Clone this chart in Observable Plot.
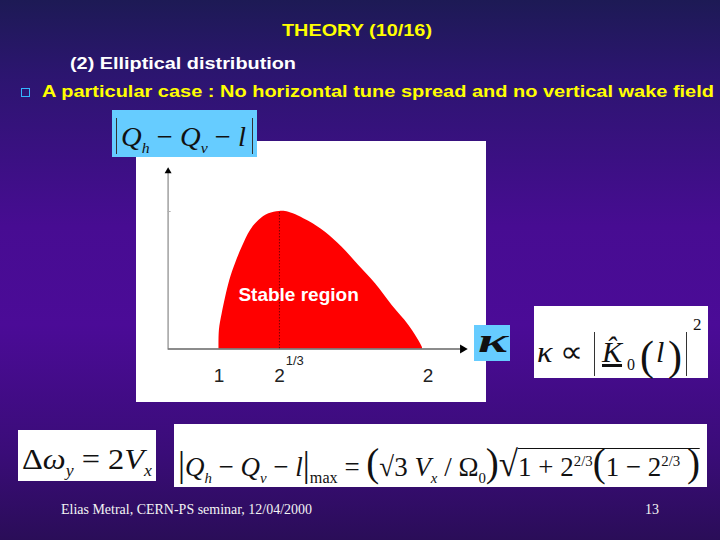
<!DOCTYPE html>
<html><head><meta charset="utf-8">
<script src="https://cdn.jsdelivr.net/npm/d3@7"></script>
<script src="https://cdn.jsdelivr.net/npm/@observablehq/plot@0.6"></script>
<style>
html,body{margin:0;padding:0;background:#2a0d58;}
#slide{position:relative;width:720px;height:540px;overflow:hidden;
 background:linear-gradient(180deg,#1d1a55 0%,#2c1570 14%,#470c92 42%,#4b0b97 60%,#3a0c78 84%,#2a0d58 100%);
 font-family:"Liberation Sans",Arial,sans-serif;}
.abs{position:absolute;white-space:nowrap;line-height:1;}
.serif{font-family:"Liberation Serif","Times New Roman",serif;color:#111;}
.abs sub,.abs sup{line-height:0;font-size:0.55em;}
.box{position:absolute;}
.bar{position:absolute;background:#333;width:1.3px;}
</style></head><body><div id="slide"></div>
<script>
// ---- data ----
const kappa   = [1.000, 1.002, 1.016, 1.053, 1.081, 1.114, 1.155, 1.196, 1.245, 1.297, 1.343, 1.441, 1.523, 1.605, 1.687, 1.769, 1.851, 1.933, 1.999, 2.000];
const tuneSep = [0.000, 0.135, 0.258, 0.498, 0.620, 0.740, 0.862, 0.935, 0.983, 1.000, 0.995, 0.929, 0.849, 0.740, 0.607, 0.474, 0.316, 0.171, 0.013, 0.000];
const peakKappa = 1.297;
const tickValues = [1.0, 1.297, 2.027];
const tickLabels = ["1", "2", "2"];
const supValue = 1.372;
const supLabel = "1/3";
const regionLabel = "Stable region";

const slide = document.getElementById("slide");

function box(x, y, w, h, bg) {
  const d = document.createElement("div");
  d.className = "box";
  Object.assign(d.style, {left: x + "px", top: y + "px", width: w + "px", height: h + "px", background: bg});
  slide.appendChild(d);
  return d;
}
function bar(x, y, h) {
  const d = document.createElement("div");
  d.className = "bar";
  Object.assign(d.style, {left: x + "px", top: y + "px", height: h + "px"});
  slide.appendChild(d);
}
function txt(html, x, baseline, size, targetW, style = {}, cls = "") {
  const d = document.createElement("div");
  d.className = "abs " + cls;
  d.innerHTML = html;
  d.style.left = x + "px";
  d.style.top = (baseline - 0.845 * size) + "px";
  d.style.fontSize = size + "px";
  Object.assign(d.style, style);
  slide.appendChild(d);
  if (targetW) {
    const w = d.getBoundingClientRect().width;
    d.style.transformOrigin = "0 0";
    d.style.transform = `scaleX(${targetW / w})`;
  }
  return d;
}

// ---- titles ----
txt("THEORY (10/16)", 282, 36.5, 17, 150, {color: "#ffff00", fontWeight: "bold"});
txt("(2) Elliptical distribution", 70, 69.5, 17, 226, {color: "#ffffff", fontWeight: "bold"});
const sq = box(21, 88, 7, 7, "transparent");
sq.style.border = "1.6px solid #33b5ff";
txt("A particular case : No horizontal tune spread and no vertical wake field", 42, 97.5, 17, 672, {color: "#ffff00", fontWeight: "bold"});

// ---- chart panel (Observable Plot) ----
const data = kappa.map((k, i) => ({k, q: tuneSep[i]}));
const chart = Plot.plot({
  width: 350,
  height: 261,
  x: {domain: [0.75, 2.25], range: [31.6, 336.9], axis: null},
  y: {domain: [0, 1.5], range: [207.5, 1.25], axis: null},
  style: {background: "white", fontFamily: "Liberation Sans, Arial, sans-serif", overflow: "visible"},
  marks: [
    Plot.areaY(data, {x: "k", y: "q", fill: "#ff0000", curve: "catmull-rom"}),
    Plot.ruleX([peakKappa], {y1: 0, y2: 1, stroke: "#7a0000", strokeWidth: 1, strokeDasharray: "1.5,1.5"}),
    Plot.ruleX([0.75], {y1: 0, y2: 1.28, stroke: "#a0a0a0", strokeWidth: 1.5}),
    Plot.ruleY([1], {x1: 0.75, x2: 0.765, stroke: "#b0b0b0", strokeWidth: 1}),
    Plot.ruleY([0], {x1: 0.75, x2: 2.19, stroke: "#666666", strokeWidth: 1.6}),
    Plot.dot([1.293], {x: () => 0.75, y: d => d, symbol: "triangle", r: 2.6, fill: "black", stroke: "none"}),
    Plot.dot([2.197], {x: d => d, y: () => 0, symbol: "triangle", r: 3.3, rotate: 90, fill: "black", stroke: "none"}),
    Plot.text(tickValues, {x: d => d, y: () => 0, dy: 27, text: (d, i) => tickLabels[i], fontSize: 19, fill: "#222"}),
    Plot.text([supValue], {x: d => d, y: () => 0, dy: 12, text: () => supLabel, fontSize: 13, fill: "#222"}),
    Plot.text([regionLabel], {x: () => 1.391, y: () => 0.396, text: d => d, fontSize: 19, fontWeight: "bold", fill: "white"})
  ]
});
const wrap = document.createElement("div");
Object.assign(wrap.style, {position: "absolute", left: "136px", top: "141px", width: "350px", height: "261px"});
wrap.appendChild(chart);
slide.appendChild(wrap);

// ---- axis label boxes ----
box(112, 110, 145, 47, "#66ccff");
bar(116, 118, 36); bar(252, 118, 36);
txt("<i>Q</i><sub><i>h</i></sub> − <i>Q</i><sub><i>v</i></sub> − <i>l</i>", 121, 147, 28, 125, {}, "serif");

box(474, 325, 36, 36, "#66ccff");
txt("<b><i>κ</i></b>", 478, 353, 34, 30, {}, "serif");

// ---- kappa formula ----
box(534, 306, 174, 72, "white");
txt("<i>κ</i> ∝", 537, 362, 30, 46, {}, "serif");
bar(594, 332, 44); bar(686, 332, 44);
txt("<i style='text-decoration:underline'>K̂</i>", 602, 362, 30, 0, {}, "serif");
txt("0", 627, 371, 16, 0, {}, "serif");
txt("(", 640, 370, 42, 0, {}, "serif");
txt("<i>l</i>", 656, 362, 30, 0, {}, "serif");
txt(")", 668, 370, 42, 0, {}, "serif");
txt("2", 693, 330, 17, 0, {}, "serif");

// ---- bottom formulas ----
box(18, 430, 138, 51, "white");
txt("Δ<i>ω</i><sub><i>y</i></sub> = 2<i>V</i><sub><i>x</i></sub>", 22, 469, 30, 130, {}, "serif");

box(174, 424, 533, 63, "white");
txt("<span style='font-size:1.3em'>|</span><i>Q</i><sub><i>h</i></sub> − <i>Q</i><sub><i>v</i></sub> − <i>l</i><span style='font-size:1.3em'>|</span><sub style='font-size:0.6em'>max</sub> = " +
    "<span style='font-size:1.45em'>(</span>√3 <i>V</i><sub><i>x</i></sub> / Ω<sub>0</sub><span style='font-size:1.45em'>)</span>" +
    "<span style='font-size:1.3em'>√</span><span style='border-top:1.3px solid #111;padding-top:2px'>1 + 2<sup>2/3</sup><span style='font-size:1.45em'>(</span>1 − 2<sup>2/3</sup> <span style='font-size:1.45em'>)</span></span>",
    178, 467, 28, 522, {}, "serif");

// ---- footer ----
txt("Elias Metral, CERN-PS seminar, 12/04/2000", 61, 515, 15, 251, {color: "#f4f4f4"}, "serif");
txt("13", 645, 515, 15, 14, {color: "#f4f4f4"}, "serif");
</script></body></html>
